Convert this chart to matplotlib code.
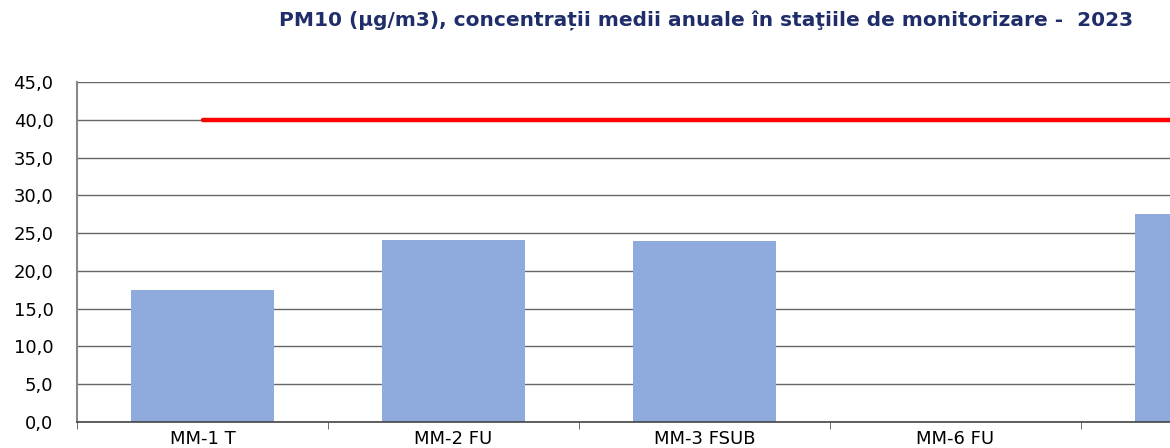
import numpy as np
import matplotlib
matplotlib.use("Agg")
import matplotlib.pyplot as plt

# data
stations = ["MM-1 T", "MM-2 FU", "MM-3 FSUB", "MM-6 FU", "MM-5 I"]
pm10_mean = [17.5, 24.1, 24.0, 0.0, 27.5]
limit_value = [40.0, 40.0, 40.0, 40.0, 40.0]
yticks = np.arange(0, 45.1, 5)

fig = plt.figure(figsize=(11.7, 4.48), dpi=100)
# axes is wider than the figure on purpose: the reference is cropped on the right
ax = fig.add_axes([77/1170, 26/448, 1255/1170, 340/448])

x = np.arange(len(stations))
ax.bar(x, pm10_mean, width=0.57, color="#8FAADC", zorder=2)
ax.plot(x, limit_value, color="#FF0000", lw=3.2, solid_capstyle="round", zorder=3)

ax.set_xlim(-0.5, len(stations) - 0.5)
ax.set_ylim(0, 45)
ax.set_yticks(yticks)
ax.set_yticklabels(["{:.1f}".format(v).replace(".", ",") for v in yticks],
                   fontsize=13, family="DejaVu Sans")
ax.tick_params(axis="y", length=0, pad=17)

# category labels between boundary ticks
ax.set_xticks(x)
ax.set_xticklabels(stations, fontsize=13, family="DejaVu Sans")
ax.set_xticks(np.arange(-0.5, len(stations), 1), minor=True)
ax.tick_params(axis="x", which="major", length=0, pad=6)
ax.tick_params(axis="x", which="minor", length=5, color="#555555", direction="out")

ax.grid(axis="y", color="#666666", lw=1, zorder=0)
for s in ["top", "right"]:
    ax.spines[s].set_visible(False)
ax.spines["left"].set_color("#888888")
ax.spines["left"].set_linewidth(1.5)
ax.spines["bottom"].set_color("#444444")
ax.spines["bottom"].set_linewidth(1.2)

fig.text(1133/1170, 1 - 20/448,
         "PM10 (µg/m3), concentrații medii anuale în staţiile de monitorizare -  2023",
         ha="right", va="center", fontsize=14.5, fontweight="bold", color="#1F2D6B",
         family="DejaVu Sans")

fig.savefig("out.png", dpi=100)
